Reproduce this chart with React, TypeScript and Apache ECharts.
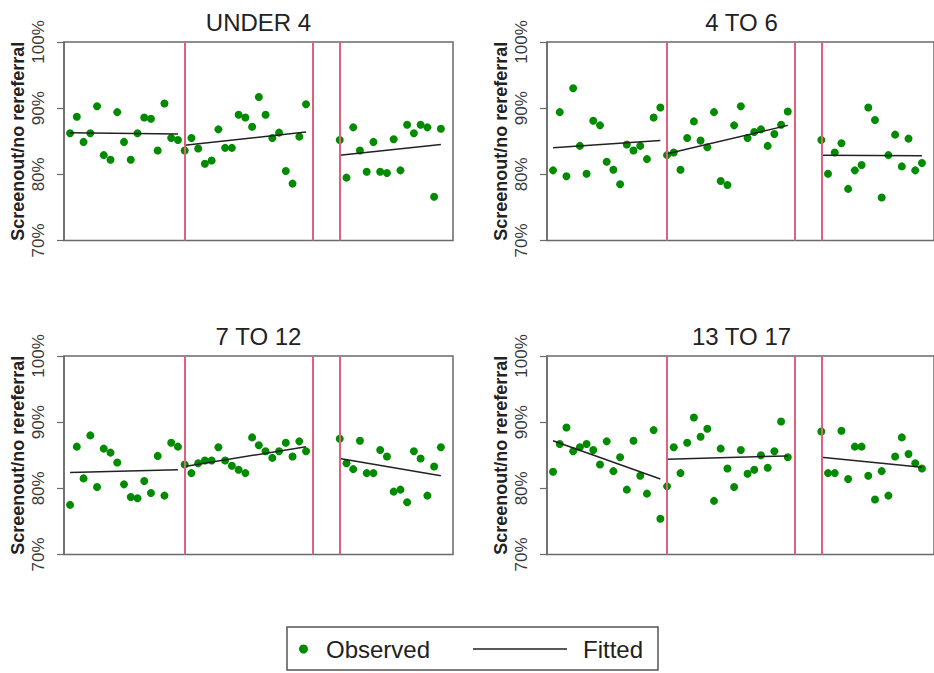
import React, { useEffect, useRef } from 'react';
import * as echarts from 'echarts';

// ---- data ----
const panelTitles = ['UNDER 4', '4 TO 6', '7 TO 12', '13 TO 17'];

// period index of each observation (gap between 36 and 41)
const periods = [
  1, 2, 3, 4, 5, 6, 7, 8, 9, 10, 11, 12, 13, 14, 15, 16, 17,
  18, 19, 20, 21, 22, 23, 24, 25, 26, 27, 28, 29, 30, 31, 32, 33, 34, 35, 36,
  41, 42, 43, 44, 45, 46, 47, 48, 49, 50, 51, 52, 53, 54, 55, 56,
];

const obsUnder4 = [
  86.2, 88.7, 84.9, 86.2, 90.3, 82.9, 82.2, 89.4, 84.9, 82.2, 86.2, 88.6, 88.4, 83.6, 90.7, 85.5, 85.2,
  83.6, 85.5, 83.9, 81.6, 82.1, 86.8, 84.0, 84.0, 89.0, 88.6, 87.2, 91.7, 89.0, 85.5, 86.3, 80.5, 78.6, 85.7, 90.6,
  85.2, 79.5, 87.1, 83.6, 80.4, 84.9, 80.4, 80.2, 85.3, 80.6, 87.5, 86.2, 87.5, 87.1, 76.6, 86.9,
];
const obs4to6 = [
  80.6, 89.4, 79.7, 93.0, 84.3, 80.1, 88.1, 87.4, 81.9, 80.7, 78.5, 84.5, 83.6, 84.3, 82.3, 88.6, 90.1,
  82.9, 83.3, 80.7, 85.5, 88.0, 85.1, 84.1, 89.4, 79.0, 78.4, 87.4, 90.3, 85.5, 86.4, 86.8, 84.3, 86.1, 87.5, 89.5,
  85.2, 80.1, 83.3, 84.7, 77.8, 80.6, 81.4, 90.1, 88.2, 76.5, 82.9, 86.0, 81.2, 85.4, 80.6, 81.7,
];
const obs7to12 = [
  77.5, 86.3, 81.5, 88.0, 80.2, 86.0, 85.4, 83.9, 80.6, 78.7, 78.5, 81.1, 79.3, 84.9, 78.9, 86.9, 86.3,
  83.6, 82.3, 83.8, 84.2, 84.2, 86.2, 84.2, 83.4, 82.8, 82.3, 87.7, 86.5, 85.6, 84.6, 85.6, 86.9, 84.8, 87.1, 85.6,
  87.5, 83.8, 82.9, 87.2, 82.3, 82.3, 85.8, 84.8, 79.5, 79.8, 77.9, 85.6, 84.5, 78.9, 83.3, 86.2,
];
const obs13to17 = [
  82.5, 86.7, 89.2, 85.6, 86.2, 86.7, 85.8, 83.6, 87.1, 82.6, 84.7, 79.8, 87.2, 81.9, 79.2, 88.8, 75.4,
  80.3, 86.2, 82.3, 86.9, 90.7, 87.8, 89.0, 78.1, 86.0, 83.0, 80.2, 85.8, 82.2, 82.8, 85.0, 83.1, 85.6, 90.1, 84.7,
  88.6, 82.3, 82.3, 88.7, 81.4, 86.3, 86.3, 81.9, 78.3, 82.6, 78.9, 84.8, 87.7, 85.2, 83.8, 83.0,
];

// fitted segments: [start period, end period]
const segments = [[1, 17], [18, 36], [41, 56]];
// fitted value at start / end of each segment
const fitUnder4 = [[86.3, 86.1], [84.4, 86.4], [82.9, 84.5]];
const fit4to6 = [[84.0, 85.1], [83.1, 87.4], [82.9, 82.8]];
const fit7to12 = [[82.4, 82.8], [83.3, 86.3], [84.5, 81.9]];
const fit13to17 = [[87.2, 81.4], [84.4, 84.9], [84.7, 83.2]];

// vertical break lines
const breakPeriods = [18, 37, 41];

const yMin = 70;
const yMax = 100;
const yStep = 10;
const yAxisTitle = 'Screenout/no rereferral';

const observed = [obsUnder4, obs4to6, obs7to12, obs13to17];
const fitted = [fitUnder4, fit4to6, fit7to12, fit13to17];

// ---- styles / layout ----
const FONT = '"Liberation Sans", Arial, Helvetica, sans-serif';
const GREEN = '#008B00';
const BREAK_RED = '#e0607e';
const BOX = '#6a6a6a';
const gridBoxes = [
  { left: 64, top: 42 },
  { left: 547, top: 42 },
  { left: 64, top: 356 },
  { left: 547, top: 356 },
];
const GW = 389;
const GH = 198.5;

export default function App() {
  const ref = useRef<HTMLDivElement>(null);

  useEffect(() => {
    const chart = echarts.init(ref.current!, null, { renderer: 'svg' });

    const grids = gridBoxes.map((g) => ({
      left: g.left,
      top: g.top,
      width: GW,
      height: GH,
      show: true,
      borderColor: BOX,
      borderWidth: 1.5,
      backgroundColor: 'transparent',
      containLabel: false,
    }));

    const xAxes = gridBoxes.map((_, i) => ({
      type: 'value',
      gridIndex: i,
      min: 0.1,
      max: 57.8,
      axisLine: { show: false },
      axisTick: { show: false },
      axisLabel: { show: false },
      splitLine: { show: false },
    }));

    const yAxes = gridBoxes.map((_, i) => ({
      type: 'value',
      gridIndex: i,
      min: yMin,
      max: yMax,
      interval: yStep,
      name: yAxisTitle,
      nameLocation: 'middle',
      nameGap: 37,
      nameTextStyle: { fontFamily: FONT, fontSize: 18, fontWeight: 'bold', color: '#222' },
      axisLine: { show: true, lineStyle: { color: BOX, width: 1.5 } },
      axisTick: { show: true, length: 7, lineStyle: { color: BOX, width: 1.2 } },
      axisLabel: {
        rotate: 90,
        margin: 17,
        fontFamily: FONT,
        fontSize: 17,
        color: '#3a3a3a',
        formatter: '{value}%',
        showMinLabel: true,
        showMaxLabel: true,
      },
      splitLine: { show: false },
    }));

    const series: any[] = [];
    observed.forEach((vals, i) => {
      // break lines
      series.push({
        type: 'scatter',
        name: 'breaks',
        xAxisIndex: i,
        yAxisIndex: i,
        data: [],
        z: 1,
        silent: true,
        markLine: {
          silent: true,
          symbol: ['none', 'none'],
          label: { show: false },
          lineStyle: { color: BREAK_RED, width: 2, type: 'solid' },
          data: breakPeriods.map((b) => ({ xAxis: b })),
        },
      });
      series.push({
        type: 'scatter',
        name: 'Observed',
        xAxisIndex: i,
        yAxisIndex: i,
        symbol: 'circle',
        symbolSize: 8,
        itemStyle: { color: GREEN, opacity: 1 },
        data: vals.map((v, k) => [periods[k], v]),
        z: 3,
      });
      fitted[i].forEach((f, s) => {
        series.push({
          type: 'line',
          name: 'Fitted',
          xAxisIndex: i,
          yAxisIndex: i,
          symbol: 'none',
          showSymbol: false,
          color: '#222',
          lineStyle: { color: '#222', width: 1.5 },
          data: [
            [segments[s][0], f[0]],
            [segments[s][1], f[1]],
          ],
          z: 4,
        });
      });
    });

    const titles = gridBoxes.map((g, i) => ({
      text: panelTitles[i],
      left: g.left + GW / 2,
      top: g.top - 32,
      textAlign: 'center',
      padding: 0,
      textStyle: { fontFamily: FONT, fontSize: 24, fontWeight: 'normal', color: '#222' },
    }));

    const option: any = {
      animation: false,
      backgroundColor: '#ffffff',
      title: titles,
      grid: grids,
      xAxis: xAxes,
      yAxis: yAxes,
      legend: [
        {
          data: ['Observed'],
          left: 299,
          top: 637,
          padding: 0,
          itemWidth: 9,
          itemHeight: 9,
          selectedMode: false,
          textStyle: { fontFamily: FONT, fontSize: 24, color: '#222', padding: [0, 0, 0, 13] },
        },
        {
          data: [{ name: 'Fitted', icon: 'rect' }],
          left: 473,
          top: 637,
          padding: 0,
          itemWidth: 94,
          itemHeight: 1.6,
          selectedMode: false,
          itemStyle: { color: '#222' },
          textStyle: { fontFamily: FONT, fontSize: 24, color: '#222', padding: [0, 0, 0, 11] },
        },
      ],
      graphic: [
        {
          type: 'rect',
          shape: { x: 287, y: 627, width: 371, height: 43 },
          style: { fill: 'none', stroke: '#555', lineWidth: 1.5 },
          silent: true,
        },
      ],
      series,
    };

    chart.setOption(option);
    return () => chart.dispose();
  }, []);

  return (
    <div
      ref={ref}
      style={{ position: 'fixed', left: 0, top: 0, width: 934, height: 673, background: '#fff' }}
    />
  );
}
